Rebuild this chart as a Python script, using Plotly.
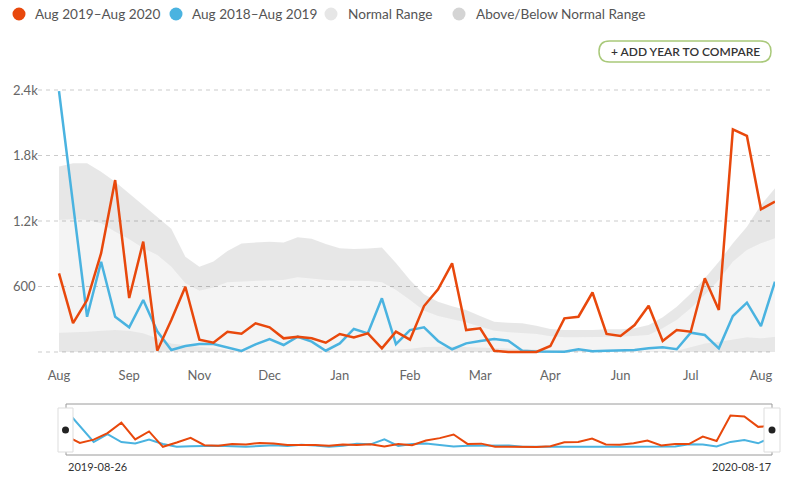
import plotly.graph_objects as go
import pandas as pd

W, H = 793, 487

# ---------------- data ----------------
dates = pd.date_range("2019-08-26", periods=52, freq="7D")

aug19_20 = [720, 265, 476, 905, 1575, 494, 1011, 12, 293, 598,
            113, 85, 186, 168, 263, 226, 125, 140, 125, 85,
            165, 134, 171, 34, 186, 113, 421, 574, 812, 201,
            217, 12, 0, 0, 0, 55, 308, 323, 545, 165,
            147, 247, 424, 101, 201, 186, 675, 385, 2040, 1979,
            1307, 1377]

aug18_19 = [2390, 1380, 323, 827, 323, 226, 476, 190, 18, 55,
            73, 73, 43, 10, 70, 118, 64, 140, 95, 12,
            79, 211, 171, 492, 73, 201, 226, 101, 25, 79,
            101, 119, 104, 12, 5, 3, 3, 25, 8, 12,
            18, 18, 34, 43, 25, 177, 156, 34, 330, 452,
            238, 644]

normal_low = [177, 180, 186, 195, 201, 195, 171, 125, 79, 64,
              49, 34, 18, 12, 8, 5, 5, 5, 5, 5,
              5, 5, 10, 15, 20, 30, 45, 50, 50, 45,
              40, 35, 30, 25, 20, 15, 10, 5, 5, 5,
              5, 5, 5, 5, 12, 49, 79, 95, 116, 134,
              125, 140]

normal_high = [1209, 1215, 1209, 1179, 1102, 1032, 950, 889, 781, 629,
               562, 590, 640, 645, 645, 650, 660, 684, 671, 660,
               653, 650, 650, 640, 568, 476, 378, 330, 300, 270,
               232, 195, 180, 171, 165, 145, 134, 134, 134, 134,
               140, 147, 156, 217, 293, 400, 522, 660, 827, 934,
               996, 1041]

range_max = [1700, 1728, 1728, 1652, 1560, 1454, 1347, 1240, 1130, 873,
             781, 830, 925, 995, 1005, 1011, 1002, 1051, 1038, 989,
             950, 943, 948, 958, 815, 660, 530, 460, 420, 385,
             330, 278, 268, 263, 240, 210, 201, 201, 201, 208,
             208, 217, 247, 318, 415, 537, 675, 827, 996, 1148,
             1347, 1500]

y_tickvals = [0, 600, 1200, 1800, 2400]
y_ticktext = ["0", "600", "1.2k", "1.8k", "2.4k"]
x_tickvals = list(dates[::5])
legend_labels = ["Aug 2019\u2013Aug 2020", "Aug 2018\u2013Aug 2019",
                 "Normal Range", "Above/Below Normal Range"]
slider_labels = ["2019-08-26", "2020-08-17"]
button_label = "+ ADD YEAR TO COMPARE"

# ---------------- style ----------------
ORANGE = "#e8480c"
BLUE = "#4ab3e0"
FONT = "Lato, 'Open Sans', sans-serif"


def PX(p):
    return p / W


def PY(p):
    return 1 - p / H


fig = go.Figure()

# normal-range bands
fig.add_trace(go.Scatter(x=dates, y=normal_low, mode="lines", line=dict(width=0),
                         fill="tozeroy", fillcolor="rgba(0,0,0,0.095)", hoverinfo="skip"))
fig.add_trace(go.Scatter(x=dates, y=normal_high, mode="lines", line=dict(width=0),
                         fill="tonexty", fillcolor="rgba(0,0,0,0.045)", hoverinfo="skip"))
fig.add_trace(go.Scatter(x=dates, y=range_max, mode="lines", line=dict(width=0),
                         fill="tonexty", fillcolor="rgba(0,0,0,0.095)", hoverinfo="skip"))

# main lines
fig.add_trace(go.Scatter(x=dates, y=aug18_19, mode="lines", name=legend_labels[1],
                         line=dict(color=BLUE, width=2.5)))
fig.add_trace(go.Scatter(x=dates, y=aug19_20, mode="lines", name=legend_labels[0],
                         line=dict(color=ORANGE, width=2.5)))

# navigator lines
fig.add_trace(go.Scatter(x=dates, y=aug18_19, mode="lines", xaxis="x2", yaxis="y2",
                         line=dict(color=BLUE, width=2), hoverinfo="skip"))
fig.add_trace(go.Scatter(x=dates, y=aug19_20, mode="lines", xaxis="x2", yaxis="y2",
                         line=dict(color=ORANGE, width=2), hoverinfo="skip"))

# main x range: data starts at px 59 inside a plot area starting at px 10
x_left, x_right, data_left = 10, 775, 59
span_days = (dates[-1] - dates[0]).days
px_per_day = (x_right - data_left) / span_days
x_start = dates[0] - pd.Timedelta(days=(data_left - x_left) / px_per_day)

# y range: 0 at px 352, 2400 at px 90, plot area 80..356
units_per_px = 2400 / (352 - 90)
y_bottom = -(356 - 352) * units_per_px
y_top = 2400 + (90 - 80) * units_per_px

shapes = []
for v in y_tickvals:
    shapes.append(dict(type="line", xref="paper", yref="y", x0=PX(38), x1=PX(773),
                       y0=v, y1=v, line=dict(color="#cbcbcb", width=1, dash="4px,4px"),
                       layer="below"))

annotations = []
legend_items = [(19, 33, ORANGE), (176, 190, BLUE), (331, 346, "#e6e6e6"), (459, 474, "#d4d4d4")]
for (cx, tx, col), lab in zip(legend_items, legend_labels):
    r = 6.5
    shapes.append(dict(type="circle", xref="paper", yref="paper",
                       x0=PX(cx - r), x1=PX(cx + r), y0=PY(14 + r), y1=PY(14 - r),
                       fillcolor=col, line=dict(width=0)))
    annotations.append(dict(text=lab, xref="paper", yref="paper", x=PX(tx), y=PY(14.5),
                            xanchor="left", yanchor="middle", showarrow=False,
                            font=dict(family=FONT, size=13.6, color="#555555")))

# button (rounded rectangle)
bx0, bx1, by0, by1, br = 599, 771, 41, 62, 10.5
path = (f"M {PX(bx0+br)} {PY(by0)} L {PX(bx1-br)} {PY(by0)} "
        f"Q {PX(bx1)} {PY(by0)} {PX(bx1)} {PY(by0+br)} "
        f"L {PX(bx1)} {PY(by1-br)} Q {PX(bx1)} {PY(by1)} {PX(bx1-br)} {PY(by1)} "
        f"L {PX(bx0+br)} {PY(by1)} Q {PX(bx0)} {PY(by1)} {PX(bx0)} {PY(by1-br)} "
        f"L {PX(bx0)} {PY(by0+br)} Q {PX(bx0)} {PY(by0)} {PX(bx0+br)} {PY(by0)} Z")
shapes.append(dict(type="path", xref="paper", yref="paper", path=path,
                   line=dict(color="#a9c97a", width=1.5), fillcolor="white"))
annotations.append(dict(text=button_label, xref="paper", yref="paper",
                        x=PX((bx0 + bx1) / 2), y=PY((by0 + by1) / 2),
                        xanchor="center", yanchor="middle", showarrow=False,
                        font=dict(family=FONT, size=12, color="#333333", weight=600)))

# navigator box
shapes.append(dict(type="rect", xref="paper", yref="paper",
                   x0=PX(66), x1=PX(772), y0=PY(455), y1=PY(404),
                   line=dict(color="#9a9a9a", width=1), layer="below"))
for hx0, hx1, dx in [(58, 73, 65.5), (764, 780, 772)]:
    shapes.append(dict(type="rect", xref="paper", yref="paper",
                       x0=PX(hx0), x1=PX(hx1), y0=PY(452), y1=PY(408),
                       fillcolor="white", line=dict(color="#dddddd", width=1)))
    shapes.append(dict(type="circle", xref="paper", yref="paper",
                       x0=PX(dx - 3.5), x1=PX(dx + 3.5), y0=PY(430 + 3.5), y1=PY(430 - 3.5),
                       fillcolor="#222222", line=dict(width=0)))

annotations.append(dict(text=slider_labels[0], xref="paper", yref="paper", x=PX(66), y=PY(466),
                        xanchor="left", yanchor="middle", showarrow=False,
                        font=dict(family=FONT, size=11, color="#333333")))
annotations.append(dict(text=slider_labels[1], xref="paper", yref="paper", x=PX(773), y=PY(466),
                        xanchor="right", yanchor="middle", showarrow=False,
                        font=dict(family=FONT, size=11, color="#333333")))

fig.update_layout(
    width=W, height=H, autosize=False,
    margin=dict(l=0, r=0, t=0, b=0, pad=0),
    paper_bgcolor="white", plot_bgcolor="rgba(0,0,0,0)",
    showlegend=False,
    shapes=shapes, annotations=annotations,
    font=dict(family=FONT),
    xaxis=dict(domain=[PX(x_left), PX(x_right)], range=[x_start, dates[-1]], type="date",
               tickvals=x_tickvals, tickformat="%b", showgrid=False, zeroline=False,
               showline=False, ticks="", automargin=False, fixedrange=True,
               ticklabelstandoff=10,
               tickfont=dict(family=FONT, size=13, color="#666666")),
    yaxis=dict(domain=[PY(356), PY(80)], range=[y_bottom, y_top],
               tickvals=y_tickvals, ticktext=y_ticktext, ticklabelposition="inside",
               showgrid=False, zeroline=False, showline=False, ticks="",
               automargin=False, fixedrange=True,
               tickfont=dict(family=FONT, size=13, color="#666666")),
    xaxis2=dict(domain=[PX(66), PX(772)], anchor="y2", range=[dates[0], dates[-1]],
                type="date", visible=False, fixedrange=True),
    yaxis2=dict(domain=[PY(455), PY(404)], anchor="x2", range=[-520, 2790],
                visible=False, fixedrange=True),
)

fig.write_html("out.html", config={"displayModeBar": False},
               post_script="document.body.style.margin='0';document.body.style.overflow='hidden';")
